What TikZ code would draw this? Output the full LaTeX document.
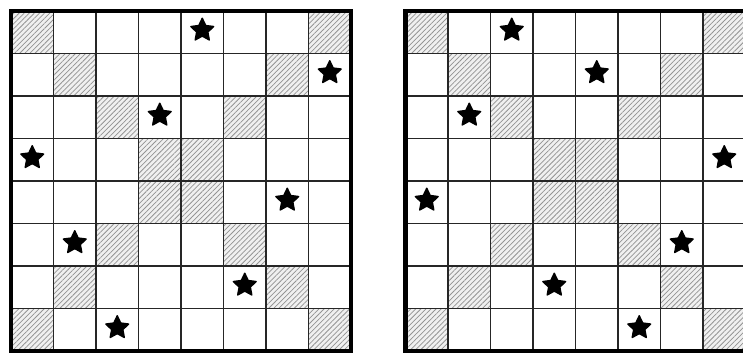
\documentclass[tikz,border=0pt]{standalone}
\usetikzlibrary{shapes.geometric,patterns.meta}
\begin{document}
\begin{tikzpicture}[x=1pt,y=-1pt,
  hatch/.style={fill=gray!12, postaction={pattern={Lines[angle=45,distance=3.6pt,line width=0.75pt]}, pattern color=gray!85}},
  gridline/.style={line width=1.2pt, draw=black!85},
  frame/.style={line width=4.8pt, draw=black},
  starmark/.style={star, star points=5, star point ratio=2.05, fill=black, draw=black,
    line width=1.4pt, line join=round, minimum size=24pt, inner sep=0pt}]
\useasboundingbox (0,0) rectangle (743,353);
\clip (0,0) rectangle (743,353);
\def\cs{42.5}
% two boards: left origin 11, right origin 405.5
\foreach \bx/\nm/\cols in {11/L/{4,7,3,0,6,1,5,2}, 405.5/R/{2,4,1,7,0,6,3,5}}{
  % hatched cells
  \foreach \c/\r in {0/0,7/0,1/1,6/1,2/2,5/2,3/3,4/3,3/4,4/4,2/5,5/5,1/6,6/6,0/7,7/7}{
    \path[hatch] (\bx+\c*\cs,11+\r*\cs) rectangle (\bx+\c*\cs+\cs,11+\r*\cs+\cs);
  }
  % grid lines
  \foreach \k in {1,...,7}{
    \draw[gridline] (\bx+\k*\cs,11) -- (\bx+\k*\cs,351);
    \draw[gridline] (\bx,11+\k*\cs) -- (\bx+8*\cs,11+\k*\cs);
  }
  % frame
  \draw[frame] (\bx,11) rectangle (\bx+8*\cs,351);
  % stars
  \foreach \c [count=\i from 0] in \cols{
    \node[starmark] (\nm\i) at (\bx+\c*\cs+0.5*\cs, 11+\i*\cs+0.5*\cs-2) {};
  }
}
\end{tikzpicture}
\end{document}
